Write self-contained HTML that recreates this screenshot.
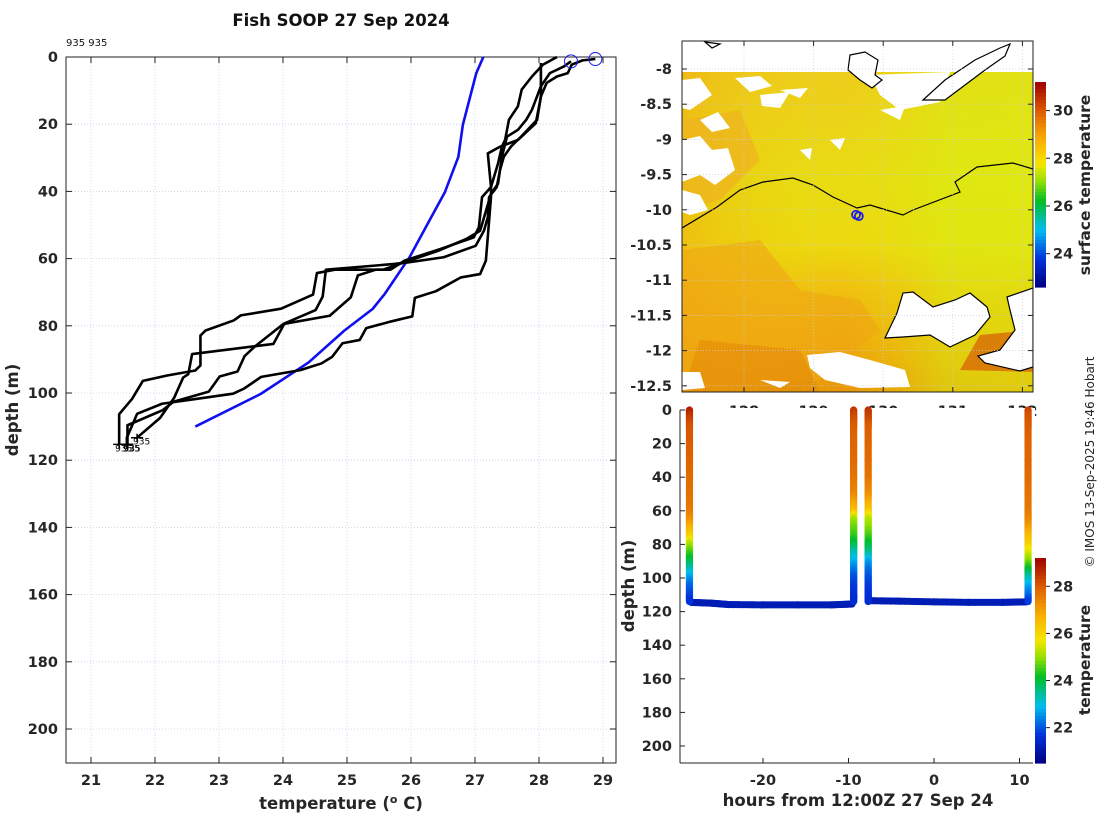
<!DOCTYPE html>
<html><head><meta charset="utf-8"><style>
html,body{margin:0;padding:0;background:#fff;}
svg{display:block;font-family:"DejaVu Sans","Liberation Sans",sans-serif;}
.tk{font-size:14.5px;font-weight:bold;fill:#262626;}
.lab{font-size:16.5px;font-weight:bold;fill:#262626;}
</style></head><body>
<svg id="fig" width="1100" height="820" viewBox="0 0 1100 820" xmlns="http://www.w3.org/2000/svg">
<rect width="1100" height="820" fill="#fff"/>
<defs>
<linearGradient id="mapv" x1="0" y1="0" x2="0" y2="1">
<stop offset="0" stop-color="#eecc1c"/><stop offset="0.35" stop-color="#e8dc12"/>
<stop offset="0.55" stop-color="#ecd80e"/><stop offset="0.68" stop-color="#f0c010"/>
<stop offset="0.85" stop-color="#f0a80a"/><stop offset="1" stop-color="#e89408"/>
</linearGradient>
<linearGradient id="maph" x1="0" y1="0" x2="1" y2="0">
<stop offset="0" stop-color="#f0a810" stop-opacity="0.5"/><stop offset="0.45" stop-color="#e8e010" stop-opacity="0"/>
<stop offset="0.75" stop-color="#d8f010" stop-opacity="0.55"/><stop offset="1" stop-color="#d8f010" stop-opacity="0.6"/>
</linearGradient>
<clipPath id="mapclip"><rect x="682" y="41" width="351" height="351"/></clipPath>
</defs>
<g id="left"></g>
<g id="map"></g>
<g id="br"></g>
<text x="341" y="26" text-anchor="middle" style="font-size:16.5px;font-weight:bold" fill="#111">Fish SOOP 27 Sep 2024</text>
<text x="66" y="46" style="font-size:10px" fill="#111">935 935</text>
<text transform="translate(1094,462) rotate(-90)" text-anchor="middle" style="font-size:12px" fill="#262626">© IMOS 13-Sep-2025 19:46 Hobart</text>
</svg>
<script>
const NS="http://www.w3.org/2000/svg";
function mk(tag,attrs,parent,txt){const e=document.createElementNS(NS,tag);for(const k in attrs)e.setAttribute(k,attrs[k]);if(txt!==undefined)e.textContent=txt;parent.appendChild(e);return e;}

// ---------------- data: left profile plot ----------------
const tempTicks=[21,22,23,24,25,26,27,28,29];
const depthTicks=[0,20,40,60,80,100,120,140,160,180,200];
const climTemp=[27.13,27.02,26.81,26.74,26.53,26.29,25.98,25.59,25.40,24.96,24.40,23.65,22.63];
const climDepth=[0,4.8,20.2,29.7,40.2,48.6,59.5,70.5,75,81.4,90.9,100.3,110];
const profATemp=[28.03,28.03,27.95,27.67,27.39,27.20,27.25,27.25,27.17,27.08,26.78,26.39,26.06,26.02,25.69,25.30,25.20,24.93,24.77,24.60,24.27,23.66,23.39,23.22,22.67,22.11,21.72,21.56,21.56];
const profADepth=[1.8,11.8,19.7,24.7,26.7,28.7,38.7,41.7,60.6,64.6,65.6,69.7,71.7,77.2,78.7,80.7,84.2,85.2,89.2,91.2,93.2,95.2,98.7,100.2,101.7,103.2,106.2,113.3,115.3];
const profBTemp=[28.28,28.06,27.89,27.73,27.67,27.53,27.47,27.42,27.36,27.25,27.11,27.06,26.98,26.45,25.90,25.68,24.81,24.53,24.47,23.97,23.34,23.23,22.79,22.71,22.71,22.63,22.19,21.81,21.64,21.44,21.44];
const profBDepth=[0,2.3,5.8,9.7,14.7,18.7,24.7,26.7,31.7,38.7,41.7,50.7,53.7,57.2,60.6,63.3,63.3,64.3,70.7,74.9,76.9,78.4,81.4,82.9,91.8,93.3,94.8,96.4,101.8,106.3,115.3];
const profCTemp=[28.50,28.39,28.17,28.03,27.97,27.89,27.80,27.67,27.50,27.42,27.36,27.25,27.08,26.86,26.42,25.56,25.45,25.17,25.06,24.73,24.02,23.85,22.58,22.52,22.44,22.30,22.19,22.08,21.72];
const profCDepth=[1.3,2.8,4.8,8.7,11.7,15.7,18.7,21.7,23.7,29.7,37.7,40.7,51.7,54.2,57.7,63.3,63.3,65.0,71.5,77.0,79.4,85.4,88.4,94.4,95.4,101.4,104.4,107.4,113.3];
const profDTemp=[28.88,28.68,28.51,28.45,28.28,28.12,28.03,27.97,27.72,27.56,27.45,27.39,27.34,27.22,27.20,27.14,27.01,26.51,25.96,25.74,24.67,24.62,24.51,24.01,23.57,23.40,23.29,23.01,22.84,22.29,22.12,21.57,21.57];
const profDDepth=[0.6,1.0,2.3,4.8,5.8,7.7,11.7,18.7,23.7,26.7,29.7,33.7,38.7,41.7,47.7,51.7,56.2,59.6,61.1,61.6,63.3,71.3,75.3,79.4,86.0,89.0,93.6,95.1,99.6,102.6,105.1,109.6,115.3];
const circTemp=[28.50,28.88];
const circDepth=[1.3,0.6];

// ---------------- data: time-depth scatter ----------------
const hourTicks=[-20,-10,0,10];
const castHours=[-28.6,-9.4,-7.7,11.0];
const castDepth=[0,5,10,20,30,40,50,60,65,70,75,80,85,90,95,100,105,110,114];
const cast1Temp=[28.9,28.4,28.1,28.0,27.9,27.8,27.7,27.6,27.3,26.8,26.2,25.3,24.6,24.0,23.4,22.7,22.2,21.9,21.7];
const cast2Temp=[28.5,28.2,28.0,27.9,27.8,27.7,27.4,26.6,25.2,24.8,24.5,24.0,23.4,22.9,22.4,22.0,21.8,21.7,21.6];
const cast3Temp=[28.6,28.3,28.0,27.9,27.8,27.7,27.3,26.4,25.3,25.0,24.6,24.1,23.6,22.8,22.3,22.0,21.8,21.7,21.6];
const cast4Temp=[28.3,28.1,28.0,27.9,27.9,27.8,27.7,27.6,27.4,27.1,26.6,26.2,25.6,25.0,24.2,23.4,22.8,22.3,21.8];
const tow1Hours=[-28.4,-26,-24,-20,-16,-12,-9.6];
const tow1Depth=[114.5,115,115.8,116,116,116,115.5];
const tow2Hours=[-7.5,-4,0,4,8,10.8];
const tow2Depth=[113.5,113.8,114.2,114.5,114.5,114.2];
const towTemp=21.2;

// map data
const latTicks=[-8,-8.5,-9,-9.5,-10,-10.5,-11,-11.5,-12,-12.5];
const lonTicks=[128,129,130,131,132];
const sstTicks=[24,26,28,30];
const bTempTicks=[22,24,26,28];
const shipLon=[129.61,129.65];
const shipLat=[-10.07,-10.09];

// colormap
const stops=[[0,[0,0,128]],[0.14,[0,50,220]],[0.28,[0,190,240]],[0.42,[0,190,40]],[0.52,[150,225,0]],[0.6,[245,230,0]],[0.72,[248,176,0]],[0.85,[224,100,0]],[1,[160,0,0]]];
function cmap(t){t=Math.max(0,Math.min(1,t));for(let i=1;i<stops.length;i++){if(t<=stops[i][0]){const a=stops[i-1],b=stops[i];const f=(t-a[0])/(b[0]-a[0]);const c=a[1].map((v,j)=>Math.round(v+(b[1][j]-v)*f));return `rgb(${c[0]},${c[1]},${c[2]})`;}}return 'rgb(160,0,0)';}

// ================= LEFT PLOT =================
const L=document.getElementById('left');


const lx0=66,lx1=616,ly0=57,ly1=763;
const xT=t=>91+(t-21)*64;
const yD=d=>57+d*3.36;
for(const t of tempTicks){
  const g=mk('line',{x1:xT(t),x2:xT(t),y1:ly0,y2:ly1,stroke:'#c8cce8','stroke-width':0.8,'stroke-dasharray':'1 2'},L);
  
  
  mk('line',{x1:xT(t),x2:xT(t),y1:ly1,y2:ly1-6,stroke:'#222'},L);
  mk('line',{x1:xT(t),x2:xT(t),y1:ly0,y2:ly0+6,stroke:'#222'},L);
  const tx=mk('text',{x:xT(t),y:785,'text-anchor':'middle',class:'tk'},L,String(t));
  
  
}
for(const d of depthTicks){
  const g=mk('line',{x1:lx0,x2:lx1,y1:yD(d),y2:yD(d),stroke:'#c8cce8','stroke-width':0.8,'stroke-dasharray':'1 2'},L);
  
  
  mk('line',{x1:lx0,x2:lx0+6,y1:yD(d),y2:yD(d),stroke:'#222'},L);
  mk('line',{x1:lx1,x2:lx1-6,y1:yD(d),y2:yD(d),stroke:'#222'},L);
  const tx=mk('text',{x:58,y:yD(d)+5,'text-anchor':'end',class:'tk'},L,String(d));
  
  
}
const lb=mk('rect',{x:lx0,y:ly0,width:lx1-lx0,height:ly1-ly0,fill:'none',stroke:'#222','stroke-width':1},L);


function poly(ts,ds,col,w,name){
  const p=mk('polyline',{points:ts.map((t,i)=>xT(t)+','+yD(ds[i])).join(' '),fill:'none',stroke:col,'stroke-width':w,'stroke-linejoin':'round'},L);
  
  
}
poly(climTemp,climDepth,'#1010ee',2.6,'climatology-line');
const profs=[[profATemp,profADepth],[profBTemp,profBDepth],[profCTemp,profCDepth],[profDTemp,profDDepth]];
profs.forEach((p,i)=>{
  poly(p[0],p[1],'#000',2.6,'profile-line-'+(i+1));
  const n=p[0].length-1;const x=xT(p[0][n]),y=yD(p[1][n]);
  mk('path',{d:`M${x-6},${y}H${x+6}M${x},${y-4}V${y+4}`,stroke:'#000','stroke-width':1.5},L);
  const lt=mk('text',{x:x-4,y:y+7,style:'font-size:9px',fill:'#000'},L,'935');
  
  
});
circTemp.forEach((t,i)=>{
  const c=mk('circle',{cx:xT(t),cy:yD(circDepth[i]),r:6.5,fill:'none',stroke:'#1a1aee','stroke-width':1},L);
  
  
});
const yl=mk('text',{transform:'translate(18,410) rotate(-90)','text-anchor':'middle',class:'lab'},L,'depth (m)');


const xl=mk('text',{x:341,y:809,'text-anchor':'middle',class:'lab'},L);


xl.innerHTML='temperature (<tspan dy="-6" style="font-size:11px">o</tspan><tspan dy="6"> C)</tspan>';

// ================= MAP =================
const M=document.getElementById('map');


const mx0=682,mx1=1033,my0=41,my1=392;
const xLon=l=>744+(l-128)*69.6;
const yLat=a=>69+(-8-a)*70.4;
const mc=mk('g',{'clip-path':'url(#mapclip)'},M);
mk('rect',{x:mx0,y:69,width:351,height:323,fill:'url(#mapv)'},mc);
mk('rect',{x:mx0,y:69,width:351,height:323,fill:'url(#maph)'},mc);
[['M682,120 L740,110 L760,160 L720,200 L682,210Z','#eeb420',0.7],['M682,250 L760,240 L800,290 L860,300 L880,330 L820,380 L682,392Z','#eea614',0.6],['M700,340 L800,350 L820,392 L682,392Z','#e48a08',0.6],['M980,335 L1033,330 L1033,372 L960,370Z','#d86a08',0.8]].forEach(p=>mk('path',{d:p[0],fill:p[1],opacity:p[2]},mc));
const clouds=['M682,69 H1033 V72 H682Z','M682,80 L700,78 L712,95 L690,110 L682,108Z','M735,78 L760,76 L772,86 L750,92Z','M780,90 L808,88 L800,98Z','M682,140 L700,136 L712,150 L728,148 L735,170 L715,185 L700,175 L682,182Z','M700,120 L718,112 L730,128 L712,132Z','M682,190 L700,195 L708,210 L690,215 L682,212Z','M760,95 L790,92 L780,108 L762,106Z','M870,75 L950,72 L940,102 L900,110 L880,95Z','M800,150 L812,148 L810,160Z','M830,140 L845,138 L840,150Z','M880,110 L905,106 L900,120Z','M807,355 L840,352 L870,360 L905,370 L910,387 L860,388 L825,380 L810,368Z','M682,372 L700,372 L705,388 L682,390Z','M760,380 L790,382 L780,388Z'];
clouds.forEach(d=>{const c=mk('path',{d:d,fill:'#fff'},mc);});
mk('rect',{x:mx0,y:my0,width:351,height:28,fill:'#fff'},mc);
const lands=['M885,338 L897,313 L903,293 L913,292 L933,307 L955,300 L970,293 L987,307 L990,317 L975,335 L950,347 L930,335 L903,337Z','M1007,297 L1033,288 L1033,367 L1020,371 L985,363 L978,356 L1000,350 L1015,330 L1010,310Z','M850,55 L865,52 L878,60 L875,75 L882,80 L872,88 L860,80 L848,70Z','M923,100 L945,80 L975,60 L1000,48 L1010,44 L1005,56 L985,70 L965,85 L945,100Z','M705,42 L720,44 L712,48Z'];
lands.forEach(d=>{const c=mk('path',{d:d,fill:'#fff',stroke:'#000','stroke-width':1.2},mc);});
const cont=mk('polyline',{points:'682,228 717,207 740,190 763,182 793,178 813,185 833,197 857,208 870,205 903,215 913,210 960,192 955,182 977,167 1013,163 1033,169',fill:'none',stroke:'#000','stroke-width':1.2},mc);


for(const a of latTicks){
  mk('line',{x1:mx0,x2:mx1,y1:yLat(a),y2:yLat(a),stroke:'#c8cce8','stroke-width':0.7,'stroke-dasharray':'1 2'},mc);
  mk('line',{x1:mx0,x2:mx0+5,y1:yLat(a),y2:yLat(a),stroke:'#222'},M);
  mk('line',{x1:mx1,x2:mx1-5,y1:yLat(a),y2:yLat(a),stroke:'#222'},M);
  const t=mk('text',{x:672,y:yLat(a)+5,'text-anchor':'end',class:'tk'},M,String(a));
  
  
}
for(const l of lonTicks){
  mk('line',{x1:xLon(l),x2:xLon(l),y1:my0,y2:my1,stroke:'#c8cce8','stroke-width':0.7,'stroke-dasharray':'1 2'},mc);
  mk('line',{x1:xLon(l),x2:xLon(l),y1:my1,y2:my1-5,stroke:'#222'},M);
  mk('line',{x1:xLon(l),x2:xLon(l),y1:my0,y2:my0+5,stroke:'#222'},M);
  const t=mk('text',{x:xLon(l),y:416,'text-anchor':'middle',class:'tk'},M,String(l));
  
  
}
mk('rect',{x:mx0,y:my0,width:351,height:351,fill:'none',stroke:'#222'},M);
shipLon.forEach((l,i)=>{const c=mk('circle',{cx:xLon(l),cy:yLat(shipLat[i]),r:4,fill:'none',stroke:'#1a1aee','stroke-width':1.8},M);});
function colorbar(par,x,y0,y1,vmin,vmax,ticks,name,label,ly){
  const g=mk('g',{},par);
  
  
  const n=60,h=(y1-y0)/n;
  for(let i=0;i<n;i++){mk('rect',{x:x,y:y1-(i+1)*h,width:11,height:h+0.6,fill:cmap((i+0.5)/n)},g);}
  const yv=v=>y1-(v-vmin)/(vmax-vmin)*(y1-y0);
  for(const v of ticks){mk('line',{x1:x+11,x2:x+15,y1:yv(v),y2:yv(v),stroke:'#222'},g);mk('text',{x:x+18,y:yv(v)+5,class:'tk'},g,String(v));}
  const t=mk('text',{transform:`translate(1090,${ly}) rotate(-90)`,'text-anchor':'middle',class:'lab',style:'font-size:15.5px'},g,label);
  
  
}

// ================= BOTTOM RIGHT =================
const B=document.getElementById('br');


const bx0=680,bx1=1033,by1=763;
mk('rect',{x:620,y:408,width:bx1-620+2,height:by1-408,fill:'#fff'},B);
const xH=h=>934+h*8.55;
const yB=d=>410+d*1.68;
const scat=mk('g',{},B);


const tnorm=t=>(t-20.5)/(29.2-20.5);
function dots(hs,ds,ts){
  for(let i=0;i<hs.length-1;i++){
    const n=14;
    for(let k=0;k<=n;k++){const f=k/n;const h=hs[i]+(hs[i+1]-hs[i])*f;const d=ds[i]+(ds[i+1]-ds[i])*f;const t=ts[i]+(ts[i+1]-ts[i])*f;
      mk('circle',{cx:xH(h),cy:yB(d),r:3.6,fill:cmap(tnorm(t))},scat);}
  }
}
dots(tow1Hours,tow1Depth,tow1Hours.map(()=>towTemp));
dots(tow2Hours,tow2Depth,tow2Hours.map(()=>towTemp));
[cast1Temp,cast2Temp,cast3Temp,cast4Temp].forEach((ts,i)=>dots(castDepth.map(()=>castHours[i]),castDepth,ts));
mk('line',{x1:bx0,x2:bx0,y1:410,y2:by1,stroke:'#222'},B);
mk('line',{x1:bx0,x2:bx1,y1:by1,y2:by1,stroke:'#222'},B);
for(const d of depthTicks){
  mk('line',{x1:bx0,x2:bx0+5,y1:yB(d),y2:yB(d),stroke:'#222'},B);
  const t=mk('text',{x:672,y:yB(d)+5,'text-anchor':'end',class:'tk'},B,String(d));
  
  
}
for(const h of hourTicks){
  mk('line',{x1:xH(h),x2:xH(h),y1:by1,y2:by1-5,stroke:'#222'},B);
  const t=mk('text',{x:xH(h),y:785,'text-anchor':'middle',class:'tk'},B,String(h));
  
  
}
const byl=mk('text',{transform:'translate(634,586) rotate(-90)','text-anchor':'middle',class:'lab'},B,'depth (m)');


const bxl=mk('text',{x:858,y:806,'text-anchor':'middle',class:'lab'},B,'hours from 12:00Z 27 Sep 24');



colorbar(M,1035,82,287,22.6,31.2,sstTicks,'sst-colorbar','surface temperature',185);
colorbar(B,1035,558,763,20.5,29.2,bTempTicks,'temperature-colorbar','temperature',660);
</script>
</body></html>
